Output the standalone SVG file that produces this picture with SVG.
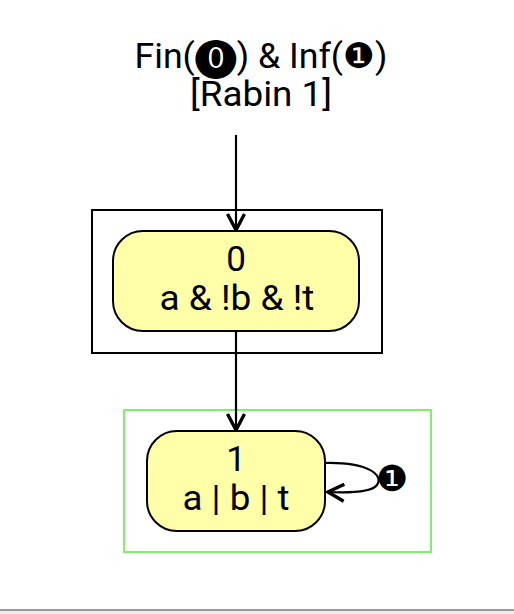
<svg xmlns="http://www.w3.org/2000/svg" width="514" height="614" viewBox="0 0 514 614">
<style>
text{font-family:Roboto,"DejaVu Sans",sans-serif;fill:#000;text-anchor:middle}
.t{font-size:35px}
.n{font-size:35px}
.lbl{font-size:36px}
.state{fill:#ffffaa;stroke:#000;stroke-width:2}
.edge{fill:none;stroke:#000;stroke-width:2.2}
</style>
<defs>
<marker id="ah" viewBox="0 0 22 22" refX="20" refY="11" markerWidth="22" markerHeight="22" markerUnits="userSpaceOnUse" orient="auto">
<path d="M3,2.5 L19,11 L3,19.5" fill="none" stroke="#000" stroke-width="3.4" stroke-linejoin="miter"/>
</marker>
</defs>
<rect width="514" height="614" fill="#fff"/>
<g id="title">
<text class="t" x="261" y="68" textLength="253" lengthAdjust="spacingAndGlyphs">Fin(<tspan style="font-size:40px;font-family:'DejaVu Sans',sans-serif">⓿</tspan>) &amp; Inf(❶)</text>
<text class="t" x="261" y="106" textLength="142" lengthAdjust="spacingAndGlyphs">[Rabin 1]</text>
</g>
<g id="cluster0"><rect x="92" y="210" width="290" height="143" fill="none" stroke="#000" stroke-width="2"/></g>
<g id="cluster1"><rect x="124" y="410" width="307" height="142" fill="none" stroke="#7ef06a" stroke-width="2"/></g>
<g id="connectors">
<path class="edge" d="M236,135 L236,231" marker-end="url(#ah)"/>
<path class="edge" d="M236,331 L236,431" marker-end="url(#ah)"/>
<path class="edge" d="M325,463 C368,462 384,475 377,485 C372,492 350,493 327,492" marker-end="url(#ah)"/>
<text class="lbl" x="392" y="491">❶</text>
</g>
<g id="node0">
<rect class="state" x="113" y="231" width="246" height="100" rx="30"/>
<text class="n" x="236" y="271">0</text>
<text class="n" x="237" y="310" textLength="155" lengthAdjust="spacingAndGlyphs">a &amp; !b &amp; !t</text>
</g>
<g id="node1">
<rect class="state" x="147" y="431" width="178" height="100" rx="30"/>
<text class="n" x="236" y="471">1</text>
<text class="n" x="236" y="510" textLength="107" lengthAdjust="spacingAndGlyphs">a | b | t</text>
</g>
<rect x="0" y="609" width="514" height="2" fill="#999"/>
<rect x="0" y="611" width="514" height="3" fill="#eee"/>
</svg>
